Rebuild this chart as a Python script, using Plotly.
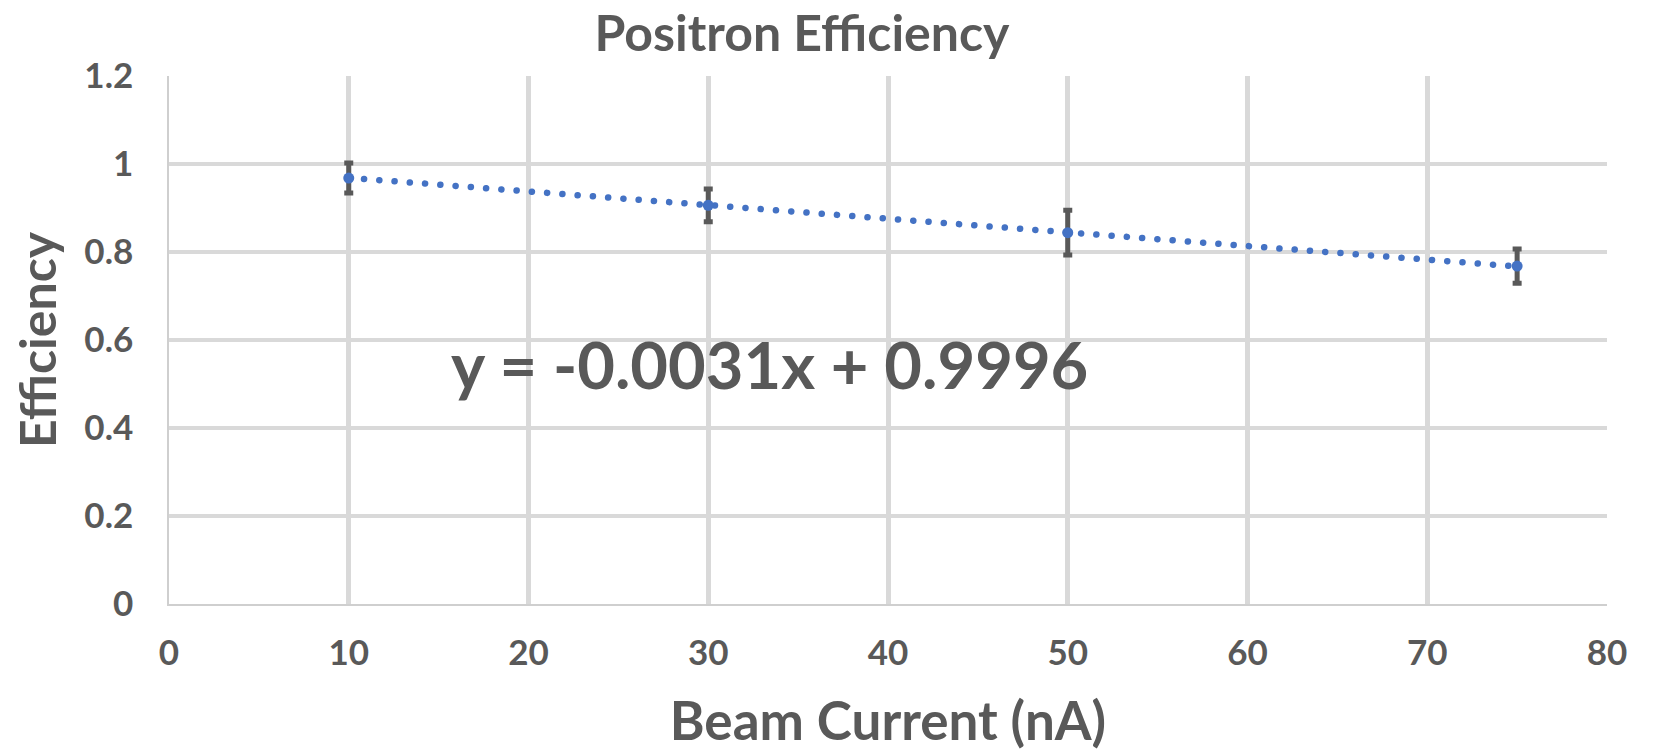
import plotly.graph_objects as go

# ---- data ----
beam_current = [10, 30, 50, 75]
efficiency = [0.968, 0.906, 0.844, 0.768]
efficiency_err = [0.034, 0.037, 0.051, 0.039]

trend_slope = -0.0031
trend_intercept = 0.9996

x_ticks = [0, 10, 20, 30, 40, 50, 60, 70, 80]
y_ticks = [0, 0.2, 0.4, 0.6, 0.8, 1.0, 1.2]
y_tick_labels = ["0", "0.2", "0.4", "0.6", "0.8", "1", "1.2"]

TEXT = "#595959"
GRID = "#D9D9D9"
BLUE = "#4472C4"
FONT = "Lato"

trend_x = [min(beam_current), max(beam_current)]
trend_y = [trend_slope * v + trend_intercept for v in trend_x]
eq_label = f"y = {trend_slope:.4f}x + {trend_intercept:.4f}"

fig = go.Figure()
fig.add_trace(go.Scatter(
    x=trend_x, y=trend_y, mode="lines",
    line=dict(color=BLUE, width=6.5, dash="0.1px,15.2px"),
    hoverinfo="skip", showlegend=False,
))
fig.add_trace(go.Scatter(
    x=beam_current, y=efficiency, mode="markers",
    marker=dict(color=BLUE, size=11),
    error_y=dict(type="data", array=efficiency_err, visible=True,
                 color=TEXT, thickness=5, width=4.5),
    showlegend=False,
))

fig.add_annotation(
    x=33.4, y=0.545, xref="x", yref="y", text=eq_label, showarrow=False,
    font=dict(family=FONT, size=65, color=TEXT, weight="bold"),
    xanchor="center", yanchor="middle",
)

fig.update_layout(
    width=1655, height=753,
    margin=dict(l=169, r=48, t=76, b=146),
    paper_bgcolor="white", plot_bgcolor="white",
    font=dict(family=FONT, color=TEXT),
    title=dict(text="<b>Positron Efficiency</b>", x=802 / 1655, xanchor="center",
               xref="container", y=1 - 33 / 753, yref="container", yanchor="middle",
               font=dict(family=FONT, size=50, color=TEXT)),
)
fig.update_xaxes(
    range=[0, 80], tickvals=x_ticks, ticktext=[str(v) for v in x_ticks],
    showgrid=True, gridcolor=GRID, gridwidth=5,
    zeroline=False, showline=True, linecolor="#CFCFCF", linewidth=1.5,
    ticks="", ticklabelstandoff=17,
    tickfont=dict(family=FONT, size=35, color=TEXT, weight="bold"),
    title=dict(text="<b>Beam Current (nA)</b>", standoff=32,
               font=dict(family=FONT, size=53, color=TEXT)),
    fixedrange=True,
)
fig.update_yaxes(
    range=[0, 1.2], tickvals=y_ticks, ticktext=y_tick_labels,
    showgrid=True, gridcolor=GRID, gridwidth=3.5,
    zeroline=False, showline=True, linecolor="#CFCFCF", linewidth=1.5,
    ticks="", ticklabelstandoff=27,
    tickfont=dict(family=FONT, size=35, color=TEXT, weight="bold"),
    title=dict(text="<b>Efficiency</b>", standoff=12,
               font=dict(family=FONT, size=50, color=TEXT)),
    fixedrange=True,
)

fig.write_html(
    "out.html",
    config={"displayModeBar": False},
    post_script="var s=document.createElement('style');s.textContent='.scatterlayer .js-line{stroke-linecap:round}';document.head.appendChild(s);",
)
